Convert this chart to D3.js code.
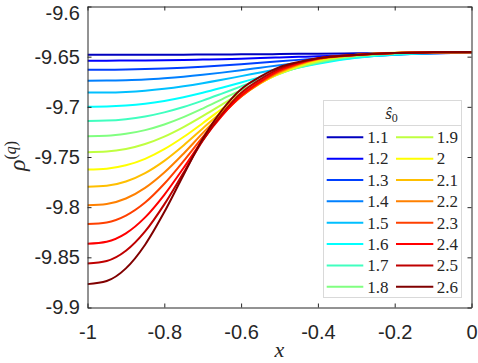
<!DOCTYPE html>
<html>
<head>
<meta charset="utf-8">
<script src="https://cdn.jsdelivr.net/npm/d3@7"></script>
<style>
  html, body { margin: 0; padding: 0; background: #fff; }
  svg { display: block; }
</style>
</head>
<body>
<svg id="chart" width="478" height="363"></svg>
<script>
// ---------------- data ----------------
const xValues = [-1, -0.95, -0.9, -0.85, -0.8, -0.75, -0.7, -0.65, -0.6, -0.55, -0.5, -0.45, -0.4, -0.3, -0.2, -0.1, 0];

const s0Labels = ["1.1","1.2","1.3","1.4","1.5","1.6","1.7","1.8","1.9","2","2.1","2.2","2.3","2.4","2.5","2.6"];

const s11 = [-9.6481,-9.6481,-9.6481,-9.6481,-9.6480,-9.6480,-9.6479,-9.6478,-9.6477,-9.6476,-9.6474,-9.6472,-9.6470,-9.6467,-9.6464,-9.6462,-9.6461];
const s12 = [-9.6540,-9.6540,-9.6539,-9.6538,-9.6536,-9.6533,-9.6529,-9.6525,-9.6520,-9.6514,-9.6508,-9.6502,-9.6496,-9.6485,-9.6475,-9.6467,-9.6462];
const s13 = [-9.6630,-9.6630,-9.6628,-9.6624,-9.6618,-9.6610,-9.6600,-9.6588,-9.6575,-9.6561,-9.6546,-9.6532,-9.6519,-9.6495,-9.6478,-9.6467,-9.6460];
const s14 = [-9.6739,-9.6738,-9.6734,-9.6727,-9.6715,-9.6700,-9.6681,-9.6659,-9.6635,-9.6610,-9.6585,-9.6561,-9.6539,-9.6504,-9.6480,-9.6466,-9.6459];
const s15 = [-9.6858,-9.6857,-9.6851,-9.6839,-9.6820,-9.6795,-9.6765,-9.6731,-9.6694,-9.6657,-9.6620,-9.6586,-9.6556,-9.6509,-9.6480,-9.6465,-9.6458];
const s16 = [-9.6998,-9.6996,-9.6987,-9.6969,-9.6941,-9.6904,-9.6860,-9.6810,-9.6757,-9.6704,-9.6654,-9.6609,-9.6570,-9.6512,-9.6479,-9.6463,-9.6457];
const s17 = [-9.7140,-9.7137,-9.7123,-9.7096,-9.7055,-9.7002,-9.6938,-9.6868,-9.6796,-9.6726,-9.6663,-9.6608,-9.6563,-9.6502,-9.6471,-9.6459,-9.6455];
const s18 = [-9.7293,-9.7289,-9.7269,-9.7232,-9.7176,-9.7103,-9.7017,-9.6925,-9.6833,-9.6746,-9.6670,-9.6606,-9.6556,-9.6494,-9.6467,-9.6457,-9.6455];
const s19 = [-9.7452,-9.7446,-9.7421,-9.7371,-9.7297,-9.7202,-9.7093,-9.6977,-9.6864,-9.6761,-9.6672,-9.6602,-9.6549,-9.6487,-9.6463,-9.6456,-9.6454];
const s20 = [-9.7624,-9.7616,-9.7583,-9.7518,-9.7422,-9.7301,-9.7163,-9.7020,-9.6884,-9.6765,-9.6666,-9.6591,-9.6537,-9.6481,-9.6460,-9.6455,-9.6454];
const s21 = [-9.7797,-9.7787,-9.7744,-9.7660,-9.7538,-9.7385,-9.7216,-9.7049,-9.6895,-9.6766,-9.6661,-9.6583,-9.6529,-9.6484,-9.6464,-9.6457,-9.6455];
const s22 = [-9.7982,-9.7969,-9.7914,-9.7808,-9.7655,-9.7467,-9.7262,-9.7070,-9.6898,-9.6761,-9.6651,-9.6575,-9.6523,-9.6484,-9.6464,-9.6457,-9.6455];
const s23 = [-9.8168,-9.8152,-9.8084,-9.7954,-9.7767,-9.7541,-9.7301,-9.7084,-9.6897,-9.6756,-9.6644,-9.6570,-9.6520,-9.6484,-9.6464,-9.6457,-9.6455];
const s24 = [-9.8364,-9.8344,-9.8261,-9.8102,-9.7877,-9.7610,-9.7331,-9.7089,-9.6888,-9.6748,-9.6635,-9.6565,-9.6518,-9.6483,-9.6464,-9.6457,-9.6455];
const s25 = [-9.8562,-9.8537,-9.8435,-9.8242,-9.7972,-9.7657,-9.7338,-9.7073,-9.6863,-9.6726,-9.6620,-9.6558,-9.6517,-9.6483,-9.6463,-9.6457,-9.6455];
const s26 = [-9.8767,-9.8736,-9.8610,-9.8374,-9.8049,-9.7679,-9.7319,-9.7034,-9.6824,-9.6699,-9.6604,-9.6552,-9.6516,-9.6482,-9.6463,-9.6457,-9.6454];

const seriesValues = [s11,s12,s13,s14,s15,s16,s17,s18,s19,s20,s21,s22,s23,s24,s25,s26];

const xTicks = [-1, -0.8, -0.6, -0.4, -0.2, 0];
const xTickLabels = ["-1","-0.8","-0.6","-0.4","-0.2","0"];
const yTicks = [-9.9, -9.85, -9.8, -9.75, -9.7, -9.65, -9.6];
const yTickLabels = ["-9.9","-9.85","-9.8","-9.75","-9.7","-9.65","-9.6"];

// jet(16) colormap
const colors = ["#0000bf","#0000ff","#0040ff","#0080ff","#00bfff","#00ffff","#40ffbf","#80ff80",
                "#bfff40","#ffff00","#ffbf00","#ff8000","#ff4000","#ff0000","#bf0000","#800000"];

// ---------------- layout ----------------
const W = 478, H = 363;
const L = 87.5, R = 471.5, T = 6.5, B = 307.5;
const axisColor = "#262626";

const svg = d3.select("#chart");
svg.append("rect").attr("width", W).attr("height", H).attr("fill", "#fff");

const x = d3.scaleLinear().domain([-1, 0]).range([L, R]);
const y = d3.scaleLinear().domain([-9.9, -9.6]).range([B, T]);

// curves
const line = d3.line()
  .x((d, i) => x(xValues[i]))
  .y(d => y(d))
  .curve(d3.curveMonotoneX);

svg.append("clipPath").attr("id", "clip")
  .append("rect").attr("x", L).attr("y", T).attr("width", R - L).attr("height", B - T);

svg.append("g").attr("clip-path", "url(#clip)")
  .selectAll("path")
  .data(seriesValues)
  .join("path")
  .attr("d", d => line(d))
  .attr("fill", "none")
  .attr("stroke", (d, i) => colors[i])
  .attr("stroke-width", 2)
  .attr("stroke-linejoin", "round");

// axes
const tickFont = "'Liberation Sans', Arial, Helvetica, sans-serif";
function styleAxis(g) {
  g.select(".domain").attr("stroke", axisColor).attr("stroke-width", 1);
  g.selectAll(".tick line").attr("stroke", axisColor).attr("stroke-width", 1);
  g.selectAll(".tick text").attr("fill", axisColor).attr("font-family", tickFont).attr("font-size", 20);
}

const xAxis = d3.axisBottom(x).tickValues(xTicks)
  .tickFormat((d, i) => xTickLabels[i]).tickSizeInner(-4).tickSizeOuter(0).tickPadding(17);
svg.append("g").attr("transform", `translate(0,${B})`).call(xAxis).call(styleAxis);

const yAxis = d3.axisLeft(y).tickValues(yTicks)
  .tickFormat((d, i) => yTickLabels[i]).tickSizeInner(-4).tickSizeOuter(0).tickPadding(7.5);
const yAxisG = svg.append("g").attr("transform", `translate(${L},0)`).call(yAxis).call(styleAxis);
// the top label sits just inside the figure, as in the reference
yAxisG.selectAll(".tick text").filter(d => d === -9.6).attr("dy", "0.64em");

const xAxisTop = d3.axisTop(x).tickValues(xTicks).tickFormat("").tickSizeInner(-4).tickSizeOuter(0);
svg.append("g").attr("transform", `translate(0,${T})`).call(xAxisTop).call(styleAxis);

const yAxisRight = d3.axisRight(y).tickValues(yTicks).tickFormat("").tickSizeInner(-4).tickSizeOuter(0);
svg.append("g").attr("transform", `translate(${R},0)`).call(yAxisRight).call(styleAxis);

// axis labels
svg.append("text")
  .attr("x", (L + R) / 2).attr("y", 357)
  .attr("text-anchor", "middle")
  .attr("font-family", "'Liberation Serif', 'Times New Roman', serif")
  .attr("font-style", "italic")
  .attr("font-size", 22)
  .attr("fill", axisColor)
  .text("x");

const yl = svg.append("text")
  .attr("transform", "translate(25,156) rotate(-90)")
  .attr("text-anchor", "middle")
  .attr("font-family", "'Liberation Serif', 'Times New Roman', serif")
  .attr("font-size", 24)
  .attr("fill", axisColor);
yl.append("tspan").attr("font-style", "italic").text("ρ");
yl.append("tspan").attr("font-size", 16).attr("dy", -9).text("(");
yl.append("tspan").attr("font-size", 16).attr("font-style", "italic").text("q");
yl.append("tspan").attr("font-size", 16).text(")");

// legend
const lg = { x: 323.5, y: 100.5, w: 138, h: 197, sep: 125.5 };
const legend = svg.append("g");
legend.append("rect")
  .attr("x", lg.x).attr("y", lg.y).attr("width", lg.w).attr("height", lg.h)
  .attr("fill", "#fff").attr("stroke", "#d9d9d9").attr("stroke-width", 1);
legend.append("line")
  .attr("x1", lg.x).attr("x2", lg.x + lg.w).attr("y1", lg.sep).attr("y2", lg.sep)
  .attr("stroke", "#d9d9d9").attr("stroke-width", 1);

const ttl = legend.append("text")
  .attr("x", 391.5).attr("y", 119)
  .attr("text-anchor", "middle")
  .attr("font-family", "'Liberation Serif', 'Times New Roman', serif")
  .attr("font-size", 17)
  .attr("fill", axisColor);
ttl.append("tspan").attr("font-style", "italic").text("ŝ");
ttl.append("tspan").attr("font-size", 12).attr("dy", 3).text("0");

const rowY0 = 137.3, rowDy = 21.35;
const cols = [{ lx1: 326.7, lx2: 363.3, tx: 367.3 }, { lx1: 396, lx2: 433.3, tx: 436.7 }];
const items = legend.selectAll("g.item")
  .data(s0Labels)
  .join("g").attr("class", "item")
  .attr("transform", (d, i) => `translate(0,${rowY0 + (i % 8) * rowDy})`);
items.append("line")
  .attr("x1", (d, i) => cols[Math.floor(i / 8)].lx1)
  .attr("x2", (d, i) => cols[Math.floor(i / 8)].lx2)
  .attr("y1", 0).attr("y2", 0)
  .attr("stroke", (d, i) => colors[i]).attr("stroke-width", 2);
items.append("text")
  .attr("x", (d, i) => cols[Math.floor(i / 8)].tx)
  .attr("y", 5.8)
  .attr("font-family", "'Liberation Serif', 'Times New Roman', serif")
  .attr("font-size", 17)
  .attr("fill", axisColor)
  .text(d => d);
</script>
</body>
</html>
